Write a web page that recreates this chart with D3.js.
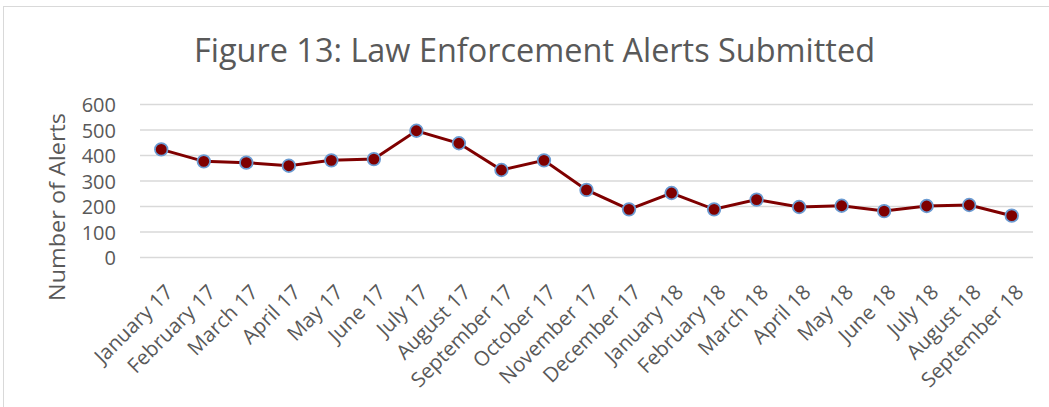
<!DOCTYPE html>
<html>
<head>
<meta charset="utf-8">
<script src="https://cdn.jsdelivr.net/npm/d3@7"></script>
<style>
  body { margin: 0; background: #fff; }
  svg { display: block; font-family: "Open Sans", "Noto Sans", sans-serif; }
</style>
</head>
<body>
<div id="chart"></div>
<script>
// Data
const months = [
  "January 17", "February 17", "March 17", "April 17", "May 17", "June 17",
  "July 17", "August 17", "September 17", "October 17", "November 17", "December 17",
  "January 18", "February 18", "March 18", "April 18", "May 18", "June 18",
  "July 18", "August 18", "September 18"
];
const alerts = [424, 377, 372, 360, 381, 386, 497, 448, 343, 381, 265, 189, 253, 189, 227, 198, 203, 182, 202, 206, 164];
const yTicks = [0, 100, 200, 300, 400, 500, 600];

const width = 1049, height = 407;
const plot = { left: 140, right: 1033, top: 104.5, bottom: 257.5 };

const svg = d3.select("#chart").append("svg").attr("width", width).attr("height", height);

// Chart border (only top and left edges fall inside the picture)
svg.append("rect")
  .attr("x", 3.5).attr("y", 6.5)
  .attr("width", width + 10).attr("height", height + 10)
  .attr("fill", "none").attr("stroke", "#d9d9d9").attr("stroke-width", 1);

// Title: Open Sans squeezed to the narrower reference width
svg.append("text")
  .attr("x", 194).attr("y", 62)
  .attr("fill", "#595959")
  .attr("textLength", 681)
  .attr("lengthAdjust", "spacingAndGlyphs")
  .style("font-size", "32px")
  .text("Figure 13: Law Enforcement Alerts Submitted");

const x = d3.scaleBand().domain(months).range([plot.left, plot.right]);
const y = d3.scaleLinear().domain([0, 600]).range([plot.bottom, plot.top]);
const cx = (m) => x(m) + x.bandwidth() / 2;

// Gridlines
svg.append("g").selectAll("line").data(yTicks).join("line")
  .attr("x1", plot.left).attr("x2", plot.right)
  .attr("y1", (d) => y(d)).attr("y2", (d) => y(d))
  .attr("stroke", "#d9d9d9").attr("stroke-width", 1.5);

// Y axis labels
const yAxis = svg.append("g")
  .attr("transform", `translate(${plot.left - 24},0)`)
  .call(d3.axisLeft(y).tickValues(yTicks).tickSize(0).tickPadding(0));
yAxis.select(".domain").remove();
yAxis.selectAll("text")
  .attr("fill", "#595959")
  .attr("dy", "0.36em")
  .style("font-size", "20px")
  .style("font-family", "'Open Sans', sans-serif");

// Y axis title
svg.append("text")
  .attr("transform", "translate(65,207) rotate(-90)")
  .attr("text-anchor", "middle")
  .attr("fill", "#595959")
  .attr("textLength", 188)
  .attr("lengthAdjust", "spacingAndGlyphs")
  .style("font-size", "21px")
  .text("Number of Alerts");

// X axis labels, rotated 45 degrees
svg.append("g").selectAll("text").data(months).join("text")
  .attr("transform", (d) => `translate(${cx(d) + 13},${plot.bottom + 36}) rotate(-45)`)
  .attr("text-anchor", "end")
  .attr("fill", "#595959")
  .style("font-size", "20.5px")
  .text((d) => d);

// Line
const line = d3.line()
  .x((d, i) => cx(months[i]))
  .y((d) => y(d));

svg.append("path")
  .datum(alerts)
  .attr("d", line)
  .attr("fill", "none")
  .attr("stroke", "#7f0000")
  .attr("stroke-width", 3);

// Markers
svg.append("g").selectAll("circle").data(alerts).join("circle")
  .attr("cx", (d, i) => cx(months[i]))
  .attr("cy", (d) => y(d))
  .attr("r", 6.3)
  .attr("fill", "#7f0000")
  .attr("stroke", "#6b9bd2")
  .attr("stroke-width", 1.75);
</script>
</body>
</html>
